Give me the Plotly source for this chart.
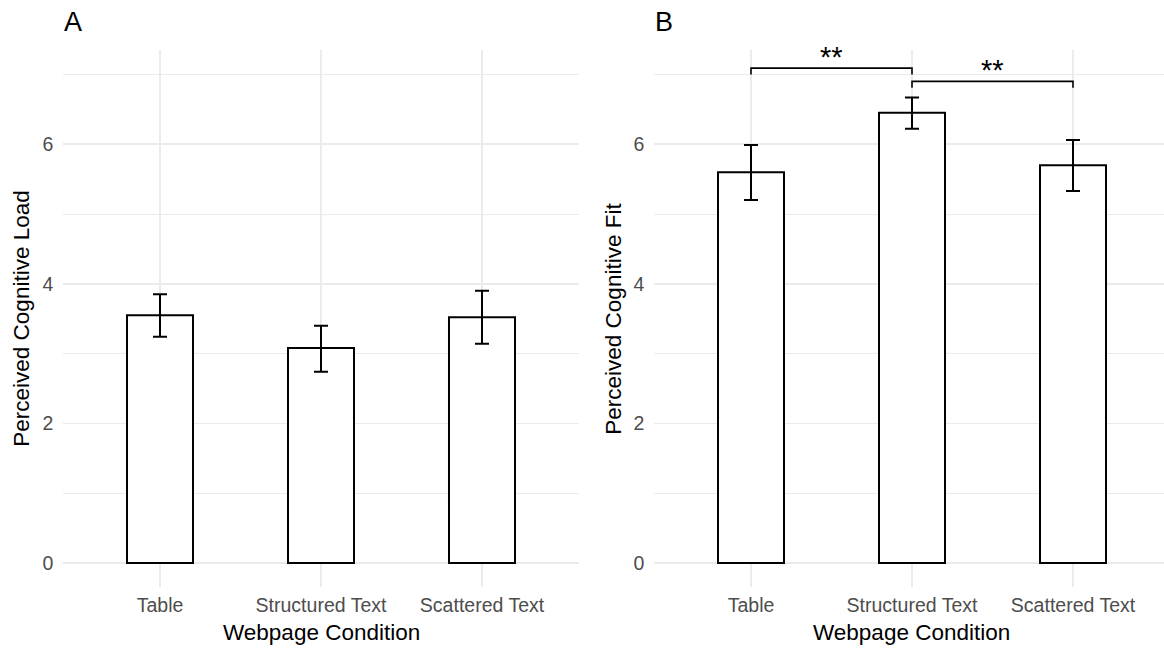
import plotly.graph_objects as go

categories = ["Table", "Structured Text", "Scattered Text"]

load_mean = [3.55, 3.08, 3.52]
load_upper = [3.85, 3.40, 3.90]
load_lower = [3.24, 2.74, 3.14]

fit_mean = [5.60, 6.45, 5.70]
fit_upper = [5.99, 6.67, 6.06]
fit_lower = [5.20, 6.22, 5.33]

sig_pairs = [("Table", "Structured Text"), ("Structured Text", "Scattered Text")]
sig_y = [7.09, 6.90]
sig_labels = ["**", "**"]
tip = 0.09

y_ticks = [0, 2, 4, 6]
y_minor = [1, 3, 5, 7]

W, H = 1164, 648
FONT = "Liberation Sans, Arial, sans-serif"
GRID = "#EBEBEB"


def px(x):
    return x / W


def py(y):
    return 1 - y / H


fig = go.Figure()


def add_panel(means, up, lo, xa, ya):
    fig.add_trace(go.Bar(
        x=categories, y=means, width=0.41,
        marker=dict(color="white", line=dict(color="black", width=2)),
        error_y=dict(type="data", symmetric=False,
                     array=[u - m for u, m in zip(up, means)],
                     arrayminus=[m - l for m, l in zip(means, lo)],
                     color="black", thickness=2, width=7),
        xaxis=xa, yaxis=ya, showlegend=False, hoverinfo="skip"))


add_panel(load_mean, load_upper, load_lower, "x", "y")
add_panel(fit_mean, fit_upper, fit_lower, "x2", "y2")

for (a, b), yv, lab in zip(sig_pairs, sig_y, sig_labels):
    ia, ib = categories.index(a), categories.index(b)
    fig.add_trace(go.Scatter(
        x=[ia, ia, ib, ib], y=[yv - tip, yv, yv, yv - tip],
        mode="lines", line=dict(color="black", width=1.6),
        xaxis="x3", yaxis="y2", showlegend=False, hoverinfo="skip"))
    fig.add_annotation(x=(ia + ib) / 2, y=yv, xref="x3", yref="y2",
                       text=lab, showarrow=False, xanchor="center",
                       yanchor="middle", yshift=11,
                       font=dict(size=29, color="black", family=FONT))

ydom = [py(587.4), py(50)]
xdomA = [px(63.4), px(578.6)]
xdomB = [px(654.4), 1.0]
rngB = [-0.6, (W - 654.4) / 161 - 0.6]

xcommon = dict(showgrid=True, gridcolor=GRID, gridwidth=1.5, zeroline=False,
               showline=False, ticks="", ticklabelstandoff=4,
               tickfont=dict(size=19.5, color="#4D4D4D", family=FONT))
ycommon = dict(range=[-0.35, 7.35], tickvals=y_ticks, showgrid=True,
               gridcolor=GRID, gridwidth=1.5, zeroline=False, showline=False,
               ticks="", ticklabelstandoff=9,
               tickfont=dict(size=19.5, color="#4D4D4D", family=FONT),
               minor=dict(tickvals=y_minor, showgrid=True, gridcolor=GRID,
                          gridwidth=1))

fig.update_layout(
    width=W, height=H,
    margin=dict(l=0, r=0, t=0, b=0, autoexpand=False),
    paper_bgcolor="white", plot_bgcolor="white",
    bargap=0,
    xaxis=dict(domain=xdomA, range=[-0.6, 2.6], anchor="y", **xcommon),
    yaxis=dict(domain=ydom, anchor="x", **ycommon),
    xaxis2=dict(domain=xdomB, range=rngB, anchor="y2", **xcommon),
    yaxis2=dict(domain=ydom, anchor="x2", **ycommon),
    xaxis3=dict(domain=xdomB, range=rngB, anchor="y2", overlaying="x2",
                visible=False),
)

for cx, txt in [((xdomA[0] + xdomA[1]) / 2, "Webpage Condition"),
                ((xdomB[0] + px(1168.6)) / 2, "Webpage Condition")]:
    fig.add_annotation(x=cx, y=py(632), xref="paper", yref="paper",
                       text=txt, showarrow=False, xanchor="center",
                       yanchor="middle",
                       font=dict(size=22.5, color="black", family=FONT))
for xp, txt in [(22, "Perceived Cognitive Load"), (614, "Perceived Cognitive Fit")]:
    fig.add_annotation(x=px(xp), y=(ydom[0] + ydom[1]) / 2, xref="paper",
                       yref="paper", text=txt, textangle=-90, showarrow=False,
                       xanchor="center", yanchor="middle",
                       font=dict(size=22.5, color="black", family=FONT))
for xp, txt in [(72.5, "A"), (664, "B")]:
    fig.add_annotation(x=px(xp), y=py(22), xref="paper", yref="paper",
                       text=txt, showarrow=False, xanchor="center",
                       yanchor="middle",
                       font=dict(size=27, color="black", family=FONT))

fig.write_html("out.html",
               config={"displayModeBar": False, "staticPlot": True},
               post_script="document.body.style.margin='0';"
                           "document.body.style.overflow='hidden';")
